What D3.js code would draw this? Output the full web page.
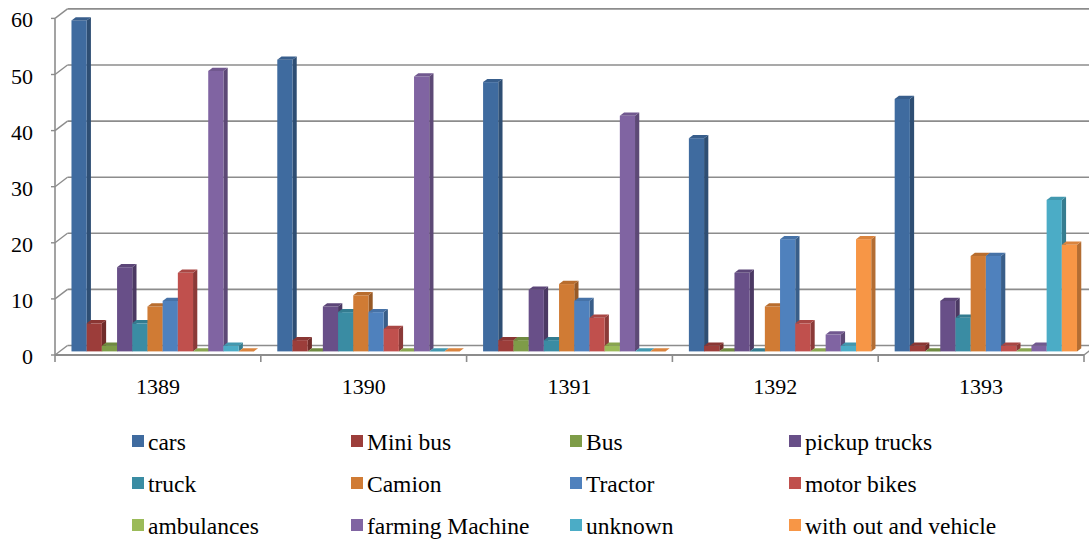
<!DOCTYPE html>
<html>
<head>
<meta charset="utf-8">
<script src="https://cdn.jsdelivr.net/npm/d3@7"></script>
</head>
<body style="margin:0">
<svg id="chart" width="1089" height="542" font-family="Liberation Serif" style="font-family:'Liberation Serif'"></svg>
<script>
// ---- data ----
const years = ["1389", "1390", "1391", "1392", "1393"];
const seriesNames = ["cars", "Mini bus", "Bus", "pickup trucks", "truck", "Camion",
  "Tractor", "motor bikes", "ambulances", "farming Machine", "unknown", "with out and vehicle"];
const cars          = [59, 52, 48, 38, 45];
const miniBus       = [5, 2, 2, 1, 1];
const bus           = [1, 0, 2, 0, 0];
const pickupTrucks  = [15, 8, 11, 14, 9];
const truck         = [5, 7, 2, 0, 6];
const camion        = [8, 10, 12, 8, 17];
const tractor       = [9, 7, 9, 20, 17];
const motorBikes    = [14, 4, 6, 5, 1];
const ambulances    = [0, 0, 1, 0, 0];
const farmingMachine= [50, 49, 42, 3, 1];
const unknown       = [1, 0, 0, 1, 27];
const withOut       = [0, 0, 0, 20, 19];
const yTicks = [0, 10, 20, 30, 40, 50, 60];
const colors = ["#3F6B9F", "#9C3D3A", "#7E9C48", "#684F88", "#3A8CA3", "#D07B34",
  "#4F81BD", "#C0504D", "#9BBB59", "#8064A2", "#4BACC6", "#F79646"];

const seriesValues = [cars, miniBus, bus, pickupTrucks, truck, camion, tractor,
  motorBikes, ambulances, farmingMachine, unknown, withOut];

// ---- layout ----
const svg = d3.select("#chart");
const X0 = 55, X1 = 1084;           // front plane x extent
const DX = 12.5, DY = 9.5;           // full depth offset
const d0 = 0.38, dBar = 0.34;        // bar front depth & bar depth (fractions)
const gridColor = "#8C8C8C";

const y = d3.scaleLinear().domain([0, 60]).range([355, 18.4]);
const x0 = d3.scaleBand().domain(years).range([X0, X1]).padding(0);
const bw = x0.bandwidth();
const x1 = d3.scaleBand().domain(seriesNames).range([bw * 0.057, bw * 0.943]).padding(0);

const gGrid = svg.append("g");
yTicks.forEach(v => {
  const yf = y(v);
  gGrid.append("line").attr("x1", X0 + DX).attr("x2", X1 + DX)
    .attr("y1", yf - DY).attr("y2", yf - DY)
    .attr("stroke", gridColor).attr("stroke-width", 1.6);
  gGrid.append("line").attr("x1", X0).attr("x2", X0 + DX)
    .attr("y1", yf).attr("y2", yf - DY)
    .attr("stroke", gridColor).attr("stroke-width", 1.4);
  gGrid.append("line").attr("x1", X0 - 4).attr("x2", X0)
    .attr("y1", yf).attr("y2", yf)
    .attr("stroke", gridColor).attr("stroke-width", 1.4);
});
gGrid.append("line").attr("x1", X1).attr("x2", X1 + DX)
  .attr("y1", y(0)).attr("y2", y(0) - DY)
  .attr("stroke", gridColor).attr("stroke-width", 1.4);

// ---- bars ----
const gBars = svg.append("g");
const bdx = dBar * DX, bdy = dBar * DY;
years.forEach((yr, i) => {
  seriesNames.forEach((s, j) => {
    const v = seriesValues[j][i];
    const c = d3.color(colors[j]);
    const xl = x0(yr) + x1(s) + d0 * DX;
    const xr = xl + x1.bandwidth();
    const yb = y(0) - d0 * DY;
    const yt = y(v) - d0 * DY;
    const g = gBars.append("g");
    g.append("path")
      .attr("d", `M${xr},${yb}L${xr},${yt}L${xr + bdx},${yt - bdy}L${xr + bdx},${yb - bdy}Z`)
      .attr("fill", c.darker(0.9).formatHex());
    g.append("rect").attr("x", xl).attr("y", yt)
      .attr("width", xr - xl).attr("height", Math.max(0, yb - yt))
      .attr("fill", c.formatHex());
    g.append("path")
      .attr("d", `M${xl},${yt}L${xr},${yt}L${xr + bdx},${yt - bdy}L${xl + bdx},${yt - bdy}Z`)
      .attr("fill", c.darker(0.35).formatHex());
  });
});

// ---- axes ----
const gAx = svg.append("g");
gAx.append("line").attr("x1", X0).attr("x2", X0)
  .attr("y1", y(60)).attr("y2", y(0) + 7)
  .attr("stroke", gridColor).attr("stroke-width", 1.6);
gAx.append("line").attr("x1", X0).attr("x2", X1)
  .attr("y1", y(0)).attr("y2", y(0))
  .attr("stroke", gridColor).attr("stroke-width", 1.8);
years.forEach(yr => {
  gAx.append("line").attr("x1", x0(yr) + bw).attr("x2", x0(yr) + bw)
    .attr("y1", y(0)).attr("y2", y(0) + 7)
    .attr("stroke", gridColor).attr("stroke-width", 1.6);
});
gAx.selectAll("text.cat").data(years).join("text").attr("class", "cat")
  .attr("x", d => x0(d) + bw / 2).attr("y", 394)
  .attr("text-anchor", "middle").attr("fill", "#000")
  .style("font-family", "'Liberation Serif'").style("font-size", "22px")
  .text(d => d);
gAx.selectAll("text.val").data(yTicks).join("text").attr("class", "val")
  .attr("x", 33).attr("y", d => y(d) + 9)
  .attr("text-anchor", "end").attr("fill", "#000")
  .style("font-family", "'Liberation Serif'").style("font-size", "22px")
  .text(d => d);

// ---- legend ----
const gLeg = svg.append("g");
const legCols = [132, 351, 570, 789];
const legRows = [435, 477, 519];
seriesNames.forEach((s, j) => {
  const cx = legCols[j % 4], ry = legRows[Math.floor(j / 4)];
  gLeg.append("rect").attr("x", cx).attr("y", ry).attr("width", 12).attr("height", 12)
    .attr("fill", colors[j]);
});
gLeg.selectAll("text").data(seriesNames).join("text")
  .attr("x", (d, j) => legCols[j % 4] + 16)
  .attr("y", (d, j) => legRows[Math.floor(j / 4)] + 15)
  .attr("fill", "#000")
  .style("font-family", "'Liberation Serif'").style("font-size", "23.5px")
  .text(d => d);
</script>
</body>
</html>
